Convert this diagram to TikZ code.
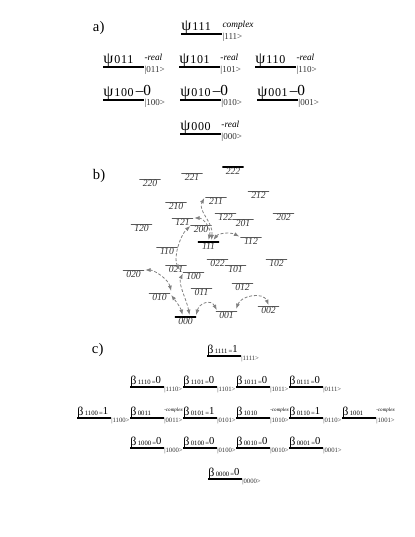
\documentclass[tikz,border=0pt]{standalone}
\usepackage{fontspec}
\setmainfont{Liberation Serif}
\usetikzlibrary{arrows.meta,calc}
\newcommand{\fs}[1]{\fontsize{#1}{#1}\selectfont}
\newcommand{\psient}[6]{%
  \coordinate (#1s) at (#2,#3);
  \coordinate (#1e) at (#2+41,#3);
  \draw[enline] (#1s) -- (#1e);
  \node[psisym] (#1p) at (#2+0.3,#3-3.2) {ψ};
  \node[psidig] (#1d) at ($(#1p.base east)+(1,0)$) {#4};
  \node[psisup] (#1u) at (#2+41.5,#3-6.5) {#5};
  \node[psiket] (#1k) at (#2+41.5,#3+5) {|#6>};
}
\newcommand{\betaent}[6]{%
  \coordinate (#1s) at (#2,#3);
  \coordinate (#1e) at (#2+34,#3);
  \draw[enline] (#1s) -- (#1e);
  \node[betasym] (#1b) at (#2+0.3,#3-2.4) {β};
  \node[betadig] (#1d) at ($(#1b.base east)+(1.5,0)$) {#4};
  \node[betasup] (#1u) at (#2+34.3,#3-6.5) {#5};
  \node[betaket] (#1k) at (#2+34.3,#3+4.5) {|#6>};
}
\newcommand{\mzero}{\hspace{1.5pt}\raisebox{1pt}{\fs{11.5}\addfontfeature{LetterSpace=0}–0}}
\begin{document}
\begin{tikzpicture}[x=0.75pt,y=-0.75pt,
  every node/.style={inner sep=0pt, outer sep=0pt},
  partlab/.style={font=\fs{11}, anchor=west},
  enline/.style={line width=0.9pt},
  psisym/.style={font=\fs{12}, anchor=base west},
  psidig/.style={font=\fs{9}\addfontfeature{LetterSpace=6}, anchor=base west},
  psisup/.style={font=\fs{7}\itshape, anchor=base west},
  psiket/.style={font=\fs{6.8}, anchor=base west, text=black!80},
  betasym/.style={font=\fs{9}, anchor=base west},
  betadig/.style={font=\fs{5}, anchor=base west},
  betasup/.style={font=\fs{3.8}\itshape, anchor=base west},
  betaket/.style={font=\fs{5}, anchor=base west, text=black!80},
  lvl/.style={draw, line width=0.6pt, shape=rectangle, minimum width=16pt,
    minimum height=0pt, inner sep=0pt,
    label={[lab]below:#1}},
  lvlthick/.style={lvl=#1, line width=1.8pt},
  lab/.style={font=\fs{7.2}\itshape, text=black!80, inner sep=0pt, label distance=1.2pt},
  trans/.style={draw=gray, line width=0.6pt, dash pattern=on 2.2pt off 1.4pt,
    {Latex[length=4pt,width=3pt,fill=gray]}-{Latex[length=4pt,width=3pt,fill=gray]}},
]
\useasboundingbox (0,0) rectangle (415,537);

% ---------------- part a ----------------
\node[partlab] (la) at (93,28) {a)};
\psient{p111}{181}{34}{111}{complex}{111}
\psient{p011}{103}{67}{011}{-real}{011}
\psient{p101}{179}{67}{101}{-real}{101}
\psient{p110}{255}{67}{110}{-real}{110}
\psient{p100}{103}{100}{100\mzero}{}{100}
\psient{p010}{180}{100}{010\mzero}{}{010}
\psient{p001}{257}{100}{001\mzero}{}{001}
\psient{p000}{180}{134}{000}{-real}{000}

% ---------------- part b ----------------
\node[partlab] (lb) at (93,176) {b)};
\node[lvl=220] (l220) at (150,179) {};
\node[lvl=221] (l221) at (192,173) {};
\node[lvlthick=222] (l222) at (233,167) {};
\node[lvl=212] (l212) at (258.5,191) {};
\node[lvl=211] (l211) at (216,197) {};
\node[lvl=210] (l210) at (176,202) {};
\node[lvl=202] (l202) at (283.5,213) {};
\node[lvl=122] (l122) at (225.5,213) {};
\node[lvl=201] (l201) at (243,219) {};
\node[lvl=121] (l121) at (182.5,218) {};
\node[lvl=200] (l200) at (201,225) {};
\node[lvl=120] (l120) at (141.5,224) {};
\node[lvl=112] (l112) at (251,237) {};
\node[lvlthick=111] (l111) at (208.5,242) {};
\node[lvl=110] (l110) at (167,247) {};
\node[lvl=021] (l021) at (176,265) {};
\node[lvl=022] (l022) at (217.5,259) {};
\node[lvl=101] (l101) at (235.5,265) {};
\node[lvl=102] (l102) at (276.5,259) {};
\node[lvl=020] (l020) at (133.5,270) {};
\node[lvl=100] (l100) at (193.5,272) {};
\node[lvl=011] (l011) at (201.5,288) {};
\node[lvl=012] (l012) at (242.5,283) {};
\node[lvl=010] (l010) at (159.5,293) {};
\node[lvlthick=000] (l000) at (185.5,317) {};
\node[lvl=001] (l001) at (226.5,311) {};
\node[lvl=002] (l002) at (268.5,306) {};

\draw[trans] ($(l111.north)+(3,-2)$) .. controls ($(l111.north)+(5,-20)$) and ($(l211.west)+(-8,14)$) .. ($(l211.west)+(-1,1)$);
\draw[trans] ($(l111.north)+(0,-2)$) .. controls ($(l111.north)+(3,-14)$) and ($(l121.east)+(10,0)$) .. ($(l121.east)+(1,0)$);
\draw[trans] ($(l111.north)+(5,-2)$) .. controls ($(l111.north)+(10,-9)$) and ($(l112.west)+(-10,-5)$) .. ($(l112.west)+(-1,-0.5)$);
\draw[trans] ($(l100.west)+(-3,-2)$) .. controls ($(l100.west)+(-10,-14)$) and ($(l200.west)+(-10,10)$) .. ($(l200.west)+(0,1)$);
\draw[trans] ($(l000.north)+(-3,-2)$) .. controls ($(l000.north)+(-5,-10)$) and ($(l010.east)+(4,6)$) .. ($(l010.east)+(1,2)$);
\draw[trans] ($(l000.north)+(4,-2)$) .. controls ($(l000.north)+(1,-18)$) and ($(l100.west)+(-5,12)$) .. ($(l100.west)+(0,1.5)$);
\draw[trans] ($(l010.east)+(1,-2)$) .. controls ($(l010.east)+(-2,-14)$) and ($(l020.east)+(10,0)$) .. ($(l020.east)+(1,0)$);
\draw[trans] ($(l000.east)+(0,-2)$) .. controls ($(l000.east)+(3,-14)$) and ($(l001.west)+(-5,-12)$) .. ($(l001.west)+(1,-1)$);
\draw[trans] ($(l001.east)+(-1,-2)$) .. controls ($(l001.east)+(4,-16)$) and ($(l002.north)+(-5,-14)$) .. ($(l002.north)+(0,-1)$);

% ---------------- part c ----------------
\node[partlab] (lc) at (92,350) {c)};
\betaent{b1111}{207}{356}{1111\,=\raisebox{0.8pt}{\fs{8}1}}{}{1111}
\betaent{b1110}{130}{387}{1110\,=\raisebox{0.8pt}{\fs{8}0}}{}{1110}
\betaent{b1101}{183}{387}{1101\,=\raisebox{0.8pt}{\fs{8}0}}{}{1101}
\betaent{b1011}{236}{387}{1011\,=\raisebox{0.8pt}{\fs{8}0}}{}{1011}
\betaent{b0111}{289}{387}{0111\,=\raisebox{0.8pt}{\fs{8}0}}{}{0111}
\betaent{b1100}{77}{418}{1100\,=\raisebox{0.8pt}{\fs{8}1}}{}{1100}
\betaent{b0011}{130}{418}{0011}{-complex}{0011}
\betaent{b0101}{183}{418}{0101\,=\raisebox{0.8pt}{\fs{8}1}}{}{0101}
\betaent{b1010}{236}{418}{1010}{-complex}{1010}
\betaent{b0110}{289}{418}{0110\,=\raisebox{0.8pt}{\fs{8}1}}{}{0110}
\betaent{b1001}{342}{418}{1001}{-complex}{1001}
\betaent{b1000}{130}{448}{1000\,=\raisebox{0.8pt}{\fs{8}0}}{}{1000}
\betaent{b0100}{183}{448}{0100\,=\raisebox{0.8pt}{\fs{8}0}}{}{0100}
\betaent{b0010}{236}{448}{0010\,=\raisebox{0.8pt}{\fs{8}0}}{}{0010}
\betaent{b0001}{289}{448}{0001\,=\raisebox{0.8pt}{\fs{8}0}}{}{0001}
\betaent{b0000}{208}{479}{0000\,=\raisebox{0.8pt}{\fs{8}0}}{}{0000}
\end{tikzpicture}
\end{document}
